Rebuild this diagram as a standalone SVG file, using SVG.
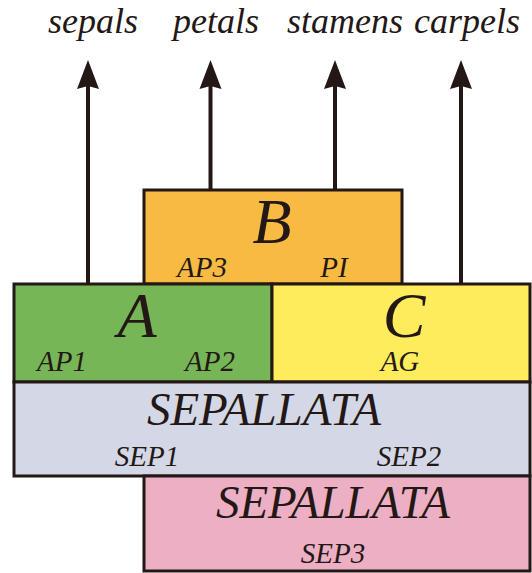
<svg xmlns="http://www.w3.org/2000/svg" width="532" height="573" viewBox="0 0 532 573">
<style>
  .box { stroke: #231815; stroke-width: 3; }
  .t { font-family: "Liberation Serif", "Times New Roman", serif; font-style: italic; fill: #231815; text-anchor: middle; }
  .big { font-size: 64px; }
  .mid { font-size: 47px; }
  .small { font-size: 29px; }
  .lbl { font-size: 36px; }
  .arrow { stroke: #231815; stroke-width: 4; fill: none; marker-end: url(#ah); }
</style>
<defs>
  <marker id="ah" markerUnits="userSpaceOnUse" orient="auto" refX="0" refY="0" markerWidth="40" markerHeight="40" overflow="visible">
    <path d="M25,0 L-4,-11 L-1,0 L-4,11 Z" fill="#231815"/>
  </marker>
</defs>
<rect width="532" height="573" fill="#ffffff"/>

<g id="connectors">
  <line class="arrow" x1="88" y1="284" x2="88" y2="85"/>
  <line class="arrow" x1="210.5" y1="190" x2="210.5" y2="85"/>
  <line class="arrow" x1="335" y1="190" x2="335" y2="85"/>
  <line class="arrow" x1="461" y1="284" x2="461" y2="85"/>
</g>

<g id="organ-labels">
  <text class="t lbl" x="93" y="33">sepals</text>
  <text class="t lbl" x="216" y="33">petals</text>
  <text class="t lbl" x="345" y="33">stamens</text>
  <text class="t lbl" x="467" y="33">carpels</text>
</g>

<g id="node-B">
  <rect class="box" x="144" y="190" width="258" height="94" fill="#F7BB43"/>
  <text class="t big" x="272" y="243">B</text>
  <text class="t small" x="202" y="277">AP3</text>
  <text class="t small" x="334" y="277">PI</text>
</g>

<g id="node-A">
  <rect class="box" x="14" y="284" width="258" height="98" fill="#77B657"/>
  <text class="t big" x="137" y="337">A</text>
  <text class="t small" x="62" y="371">AP1</text>
  <text class="t small" x="210" y="371">AP2</text>
</g>

<g id="node-C">
  <rect class="box" x="272" y="284" width="258" height="98" fill="#FEEC5C"/>
  <text class="t big" x="404" y="337">C</text>
  <text class="t small" x="400" y="371">AG</text>
</g>

<g id="node-SEP12">
  <rect class="box" x="14" y="382" width="516" height="94" fill="#D3D7E6"/>
  <text class="t mid" x="264" y="425">SEPALLATA</text>
  <text class="t small" x="147" y="466">SEP1</text>
  <text class="t small" x="409" y="466">SEP2</text>
</g>

<g id="node-SEP3">
  <rect class="box" x="144" y="476" width="386" height="95" fill="#EDAFC3"/>
  <text class="t mid" x="333" y="518">SEPALLATA</text>
  <text class="t small" x="333" y="563">SEP3</text>
</g>
</svg>
